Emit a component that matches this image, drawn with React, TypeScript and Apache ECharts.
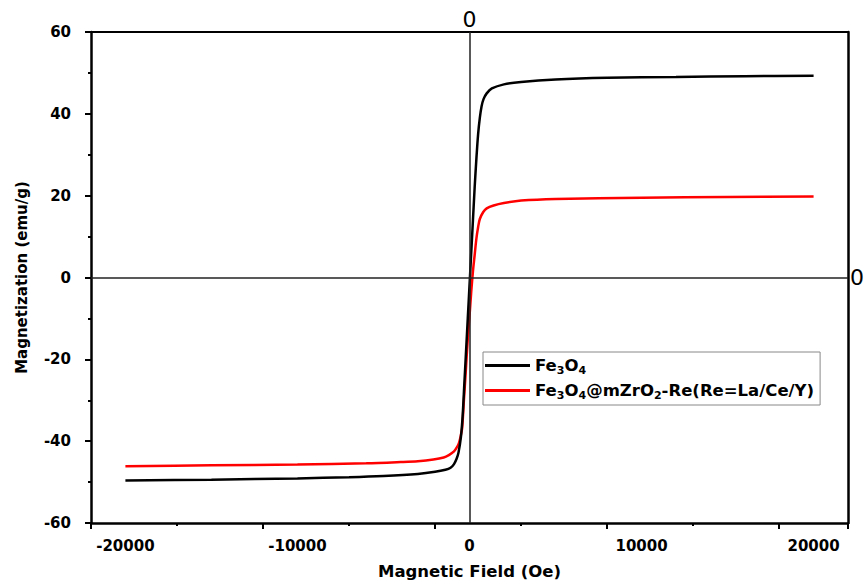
import React, { useEffect, useRef } from "react";
import * as echarts from "echarts";

const fieldBlack = [-20000, -15000, -10000, -7000, -5000, -3000, -2000, -1400, -1100, -900, -750, -640, -500, -400, -300, -200, -100, 0, 100, 200, 300, 400, 500, 600, 700, 816, 1000, 1300, 2000, 3000, 5000, 8000, 12000, 16000, 20000];
const magBlack = [-49.6, -49.4, -49.1, -48.8, -48.5, -48.0, -47.5, -47.0, -46.5, -45.6, -44.3, -42.8, -39, -34, -26, -18, -10, -2, 6, 14, 22, 29, 35, 39, 41.8, 43.6, 45.0, 46.2, 47.2, 47.8, 48.4, 48.8, 49.0, 49.2, 49.3];

const fieldRed = [-20000, -15000, -10000, -6000, -4000, -3000, -2100, -1500, -1200, -900, -700, -600, -500, -428, -330, -233, -100, 0, 100, 200, 300, 400, 500, 600, 800, 1000, 1400, 2000, 3000, 5000, 10000, 15000, 20000];
const magRed = [-46.1, -45.9, -45.7, -45.4, -45.1, -44.9, -44.5, -44.0, -43.4, -42.5, -41.3, -40.3, -38.5, -36.8, -30.3, -24, -15, -9.5, -3.5, 1.5, 5.5, 9.5, 12.3, 14.3, 16.0, 16.9, 17.6, 18.2, 18.8, 19.2, 19.5, 19.7, 19.8];

const xTickValues = [-20000, -10000, 0, 10000, 20000];
const seriesNames = ["Fe3O4", "Fe3O4@mZrO2-Re(Re=La/Ce/Y)"];
const legendRich = [
  "{a|Fe}{s|3}{a|O}{s|4}",
  "{a|Fe}{s|3}{a|O}{s|4}{a|@mZrO}{s|2}{a|-Re(Re=La/Ce/Y)}",
];

const FONT = "DejaVu Sans, Verdana, sans-serif";

export default function App() {
  const ref = useRef<HTMLDivElement>(null);
  useEffect(() => {
    if (!ref.current) return;
    const chart = echarts.init(ref.current, null, { renderer: "svg" });
    const blackData = fieldBlack.map((h, i) => [h, magBlack[i]]);
    const redData = fieldRed.map((h, i) => [h, magRed[i]]);
    const axisLabel = { color: "#000", fontFamily: FONT, fontWeight: "bold", fontSize: 15 };
    chart.setOption({
      animation: false,
      backgroundColor: "#fff",
      grid: { left: 91, right: 16, top: 32, bottom: 59 },
      legend: {
        orient: "vertical",
        left: 483,
        top: 352,
        borderColor: "#888",
        borderWidth: 1,
        padding: [5, 6, 4, 2],
        itemGap: 6,
        itemWidth: 45,
        itemHeight: 3,
        icon: "rect",
        data: seriesNames,
        formatter: (n: string) => legendRich[seriesNames.indexOf(n)],
        textStyle: {
          color: "#000",
          fontFamily: FONT,
          fontWeight: "bold",
          fontSize: 16.5,
          rich: {
            a: { fontFamily: FONT, fontWeight: "bold", fontSize: 16.5, color: "#000" },
            s: { fontFamily: FONT, fontWeight: "bold", fontSize: 11, color: "#000", padding: [10, 0, 0, 0] },
          },
        },
      },
      xAxis: [
        {
          type: "value",
          min: -22000,
          max: 22000,
          interval: 10000,
          position: "bottom",
          name: "Magnetic Field (Oe)",
          nameLocation: "middle",
          nameGap: 40,
          nameTextStyle: { color: "#000", fontFamily: FONT, fontWeight: "bold", fontSize: 16.5 },
          axisLine: { show: true, onZero: false, lineStyle: { color: "#000", width: 2.5 } },
          axisTick: { show: true, inside: false, length: 6, lineStyle: { color: "#000", width: 2 } },
          minorTick: { show: true, splitNumber: 2, length: 3, lineStyle: { color: "#000", width: 2 } },
          axisLabel: { ...axisLabel, margin: 15, customValues: xTickValues, formatter: (v: number) => String(v) },
          customValues: xTickValues,
          splitLine: { show: false },
        },
        {
          type: "value",
          min: -22000,
          max: 22000,
          position: "top",
          axisLine: { show: true, onZero: false, lineStyle: { color: "#000", width: 2 } },
          axisTick: { show: false },
          axisLabel: { show: false },
          splitLine: { show: false },
        },
      ],
      yAxis: [
        {
          type: "value",
          min: -60,
          max: 60,
          interval: 20,
          position: "left",
          name: "Magnetization (emu/g)",
          nameLocation: "middle",
          nameGap: 62,
          nameTextStyle: { color: "#000", fontFamily: FONT, fontWeight: "bold", fontSize: 15 },
          axisLine: { show: true, onZero: false, lineStyle: { color: "#000", width: 2.5 } },
          axisTick: { show: true, inside: false, length: 6, lineStyle: { color: "#000", width: 2 } },
          minorTick: { show: true, splitNumber: 2, length: 3, lineStyle: { color: "#000", width: 2 } },
          axisLabel: { ...axisLabel, margin: 20 },
          splitLine: { show: false },
        },
        {
          type: "value",
          min: -60,
          max: 60,
          position: "right",
          axisLine: { show: true, onZero: false, lineStyle: { color: "#000", width: 2.5 } },
          axisTick: { show: false },
          axisLabel: { show: false },
          splitLine: { show: false },
        },
      ],
      series: [
        {
          name: seriesNames[0],
          type: "line",
          data: blackData,
          smooth: 0.3,
          showSymbol: false,
          symbol: "none",
          color: "#000",
          lineStyle: { color: "#000", width: 2.5 },
          z: 3,
          markLine: {
            silent: true,
            symbol: "none",
            lineStyle: { color: "#222", width: 1.5, type: "solid" },
            label: {
              show: true,
              formatter: "0",
              position: "end",
              color: "#000",
              fontFamily: "DejaVu Sans",
              fontSize: 22,
              fontWeight: "normal",
              distance: 2,
            },
            data: [{ xAxis: 0 }, { yAxis: 0 }],
          },
        },
        {
          name: seriesNames[1],
          type: "line",
          data: redData,
          smooth: 0.3,
          showSymbol: false,
          symbol: "none",
          color: "#ff0000",
          lineStyle: { color: "#ff0000", width: 2.5 },
          z: 2,
        },
      ],
    });
    return () => chart.dispose();
  }, []);
  return <div ref={ref} style={{ width: 864, height: 585, position: "absolute", left: 0, top: 0 }} />;
}
